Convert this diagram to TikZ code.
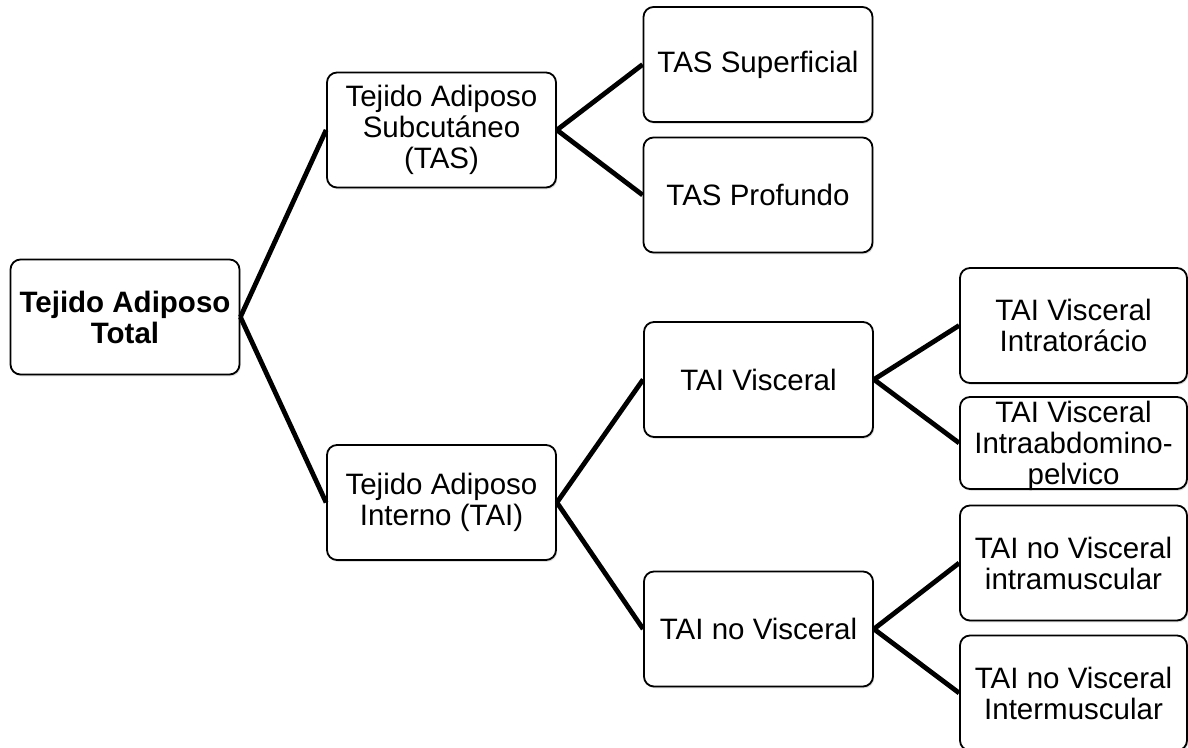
\documentclass[tikz,border=0pt]{standalone}
\usepackage{fontspec}
\setmainfont{Liberation Sans}
\usetikzlibrary{shadows}

\newcommand\tissuefont{\fontsize{14.75pt}{15.5pt}\selectfont}

\tikzset{
  tissue/.style={draw=black, line width=0.9pt, rounded corners=5pt, fill=white,
    align=center, inner sep=0pt, minimum width=114.5pt, minimum height=57.5pt,
    font=\tissuefont,
    drop shadow={shadow xshift=0.6pt, shadow yshift=-0.9pt, opacity=0.25}},
  rootbox/.style={tissue, font=\tissuefont\bfseries},
  leafbox/.style={tissue, minimum width=113.5pt},
  branch/.style={line width=2.4pt}
}

\begin{document}
\begin{tikzpicture}[x=0.5pt, y=-0.5pt]

  \useasboundingbox (0,0) rectangle (1188,748);

  % root
  \node[rootbox] (total) at (125,317) {Tejido Adiposo\\Total};

  % subcutaneous half
  \node[tissue] (tas) at (441.5,130) {Tejido Adiposo\\Subcutáneo\\(TAS)};
  \node[tissue] (tassup) at (758,64.5) {TAS Superficial};
  \node[tissue] (tasprof) at (758,195) {TAS Profundo};

  % internal half
  \node[tissue] (tai) at (441.5,502.5) {Tejido Adiposo\\Interno (TAI)};
  \node[tissue] (taivis) at (758.5,379.5) {TAI Visceral};
  \node[tissue] (tainovis) at (758.5,629) {TAI no Visceral};

  \node[leafbox] (intrator) at (1073.5,325.5) {TAI Visceral\\Intratorácio};
  \node[leafbox, minimum height=46pt, text depth=-3pt] (intraabd) at (1073.5,443) {TAI Visceral\\Intraabdomino-\\pelvico};
  \node[leafbox] (intramus) at (1073.5,563) {TAI no Visceral\\intramuscular};
  \node[leafbox] (intermus) at (1073.5,693) {TAI no Visceral\\Intermuscular};

  \draw[branch] (total.east) -- (tas.west);
  \draw[branch] (total.east) -- (tai.west);

  \draw[branch] (tas.east) -- (tassup.west);
  \draw[branch] (tas.east) -- (tasprof.west);

  \draw[branch] (tai.east) -- (taivis.west);
  \draw[branch] (tai.east) -- (tainovis.west);

  \draw[branch] (taivis.east) -- (intrator.west);
  \draw[branch] (taivis.east) -- (intraabd.west);

  \draw[branch] (tainovis.east) -- (intramus.west);
  \draw[branch] (tainovis.east) -- (intermus.west);

\end{tikzpicture}
\end{document}
